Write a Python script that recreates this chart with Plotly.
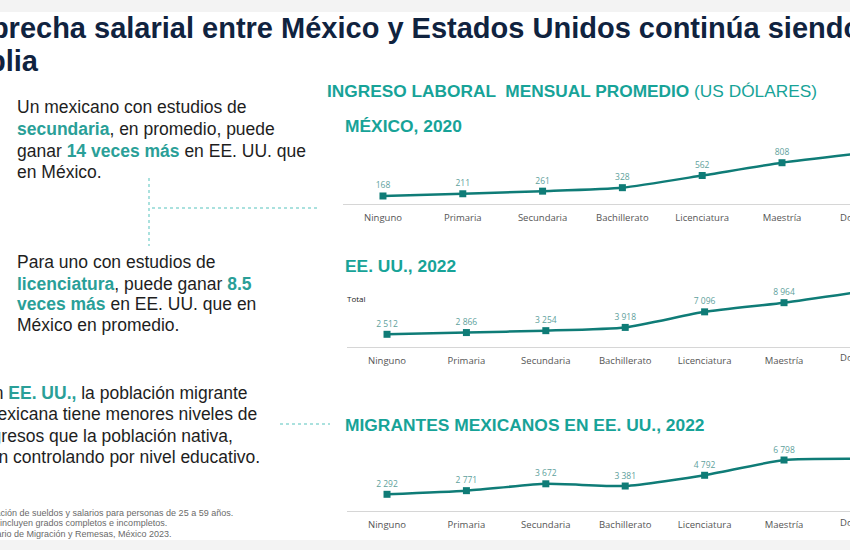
import plotly.graph_objects as go

# ---------------- data ----------------
categories = ["Ninguno", "Primaria", "Secundaria", "Bachillerato",
              "Licenciatura", "Maestría", "Doctorado"]
mexico_2020 = [168, 211, 261, 328, 562, 808, 990]
eeuu_2022 = [2512, 2866, 3254, 3918, 7096, 8964, 11300]
migrantes_2022 = [2292, 2771, 3672, 3381, 4792, 6798, 6950]

W, H = 850, 550
TEAL_LINE = "#0f7c77"
TEAL_TITLE = "#17a398"
TEAL_HL = "#2a9f98"
LABEL_COL = "#5e9f9c"
NAVY = "#10233f"
FONT = "Liberation Sans, Arial, sans-serif"
TICKFONT = "Open Sans, sans-serif"


def fmt(v):
    return f"{v:,}".replace(",", " ")


def px(x):
    return x / W


def py(y):
    return 1 - y / H


fig = go.Figure()

panels = [
    (mexico_2020, "x", "y"),
    (eeuu_2022, "x2", "y2"),
    (migrantes_2022, "x3", "y3"),
]
for vals, xa, ya in panels:
    fig.add_trace(go.Scatter(
        x=categories, y=vals, xaxis=xa, yaxis=ya,
        mode="lines+markers+text",
        text=[fmt(v) for v in vals],
        textposition="top center",
        textfont=dict(size=8.5, color=LABEL_COL, family=TICKFONT),
        line=dict(color=TEAL_LINE, width=2.5, shape="spline", smoothing=0.5),
        marker=dict(symbol="square", size=7, color=TEAL_LINE),
        cliponaxis=False, hoverinfo="skip",
    ))


def xaxis_cfg(dom_left, rng):
    return dict(domain=[px(dom_left), 1], range=rng, type="category",
                showline=True, linecolor="#d6d6d6", linewidth=1,
                showgrid=False, zeroline=False, ticks="",
                ticklabelstandoff=5,
                tickfont=dict(size=9.5, color="#555555", family=TICKFONT),
                fixedrange=True)


def yaxis_cfg(top, bottom, rng, anchor):
    return dict(domain=[py(bottom), py(top)], range=rng, visible=False,
                fixedrange=True, anchor=anchor)


layout = dict(
    width=W, height=H, margin=dict(l=0, r=0, t=0, b=0),
    paper_bgcolor="white", plot_bgcolor="rgba(0,0,0,0)", showlegend=False,
    xaxis=dict(xaxis_cfg(343, [-0.501, 5.852]), anchor="y"),
    yaxis=yaxis_cfg(140, 204, [14, 1245], "x"),
    xaxis2=dict(xaxis_cfg(347, [-0.504, 5.831]), anchor="y2"),
    yaxis2=yaxis_cfg(275, 347, [-80, 14614], "x2"),
    xaxis3=dict(xaxis_cfg(347, [-0.504, 5.831]), anchor="y3"),
    yaxis3=yaxis_cfg(440, 511, [98, 9428], "x3"),
)
fig.update_layout(**layout)

# ---------------- background bands & dotted connectors ----------------
shapes = [
    dict(type="rect", xref="paper", yref="paper", x0=0, x1=1, y0=py(12), y1=1,
         fillcolor="#f3f3f3", line=dict(width=0), layer="below"),
    dict(type="rect", xref="paper", yref="paper", x0=0, x1=1, y0=0, y1=py(540),
         fillcolor="#f3f3f3", line=dict(width=0), layer="below"),
    dict(type="line", xref="paper", yref="paper", x0=px(149), x1=px(149),
         y0=py(178), y1=py(246), line=dict(color="#8fd8d4", width=1.5, dash="dot")),
    dict(type="line", xref="paper", yref="paper", x0=px(152), x1=px(318),
         y0=py(208), y1=py(208), line=dict(color="#8fd8d4", width=1.5, dash="dot")),
    dict(type="line", xref="paper", yref="paper", x0=px(280), x1=px(330),
         y0=py(424), y1=py(424), line=dict(color="#8fd8d4", width=1.5, dash="dot")),
]
fig.update_layout(shapes=shapes)

# ---------------- text ----------------
anns = []


def ann(text, x, y, size, color="#1e1e1e", xanchor="left", family=FONT):
    anns.append(dict(text=text, x=px(x), y=py(y), xref="paper", yref="paper",
                     xanchor=xanchor, yanchor="middle", showarrow=False,
                     font=dict(size=size, color=color, family=family)))


def hl(t):
    return f"<b><span style='color:{TEAL_HL}'>{t}</span></b>"


# title
ann("<b>La brecha salarial entre México y Estados Unidos continúa siendo</b>",
    -53, 28, 29, NAVY)
ann("<b>amplia</b>", -56, 61, 29, NAVY)

# chart headers
ann(f"<b>INGRESO LABORAL  MENSUAL PROMEDIO</b> (US DÓLARES)", 325, 91, 17.3, TEAL_TITLE)
ann("<b>MÉXICO, 2020</b>", 343, 126, 17.4, TEAL_TITLE)
ann("<b>EE. UU., 2022</b>", 343, 266, 17.4, TEAL_TITLE)
ann("<b>MIGRANTES MEXICANOS EN EE. UU., 2022</b>", 343, 425, 17.4, TEAL_TITLE)
ann("Total", 345, 298, 8, "#222222", family=TICKFONT)

# Doctorado tick labels (outside visible range)
for yy in (217, 357, 522):
    ann("Doctorado", 864, yy, 9.5, "#555555", xanchor="center", family=TICKFONT)

# left column text
ann("Un mexicano con estudios de", 15, 107, 17.5)
ann(f"{hl('secundaria')}, en promedio, puede", 15, 129, 17.5)
ann(f"ganar {hl('14 veces más')} en EE. UU. que", 15, 151, 17.5)
ann("en México.", 15, 172, 17.5)

ann("Para uno con estudios de", 15, 262, 17.5)
ann(f"{hl('licenciatura')}, puede ganar {hl('8.5')}", 15, 284, 17.5)
ann(f"{hl('veces más')} en EE. UU. que en", 15, 304, 17.5)
ann("México en promedio.", 15, 325, 17.5)

ann(f"En {hl('EE. UU.,')} la población migrante", 250, 393, 17.5, xanchor="right")
ann("mexicana tiene menores niveles de", 259, 414, 17.5, xanchor="right")
ann("ingresos que la población nativa,", 235, 436, 17.5, xanchor="right")
ann("aun controlando por nivel educativo.", 262, 457, 17.5, xanchor="right")

# footnotes
ann("Nota: Estimación de sueldos y salarios para personas de 25 a 59 años.",
    235, 513, 9, "#6a6a6a", xanchor="right")
ann("Los niveles educativos incluyen grados completos e incompletos.",
    169, 523, 9, "#6a6a6a", xanchor="right")
ann("Fuente: Anuario de Migración y Remesas, México 2023.",
    174, 534, 9, "#6a6a6a", xanchor="right")

fig.update_layout(annotations=anns)

fig.write_html("out.html", config={"displayModeBar": False},
               post_script="document.body.style.margin='0';")
